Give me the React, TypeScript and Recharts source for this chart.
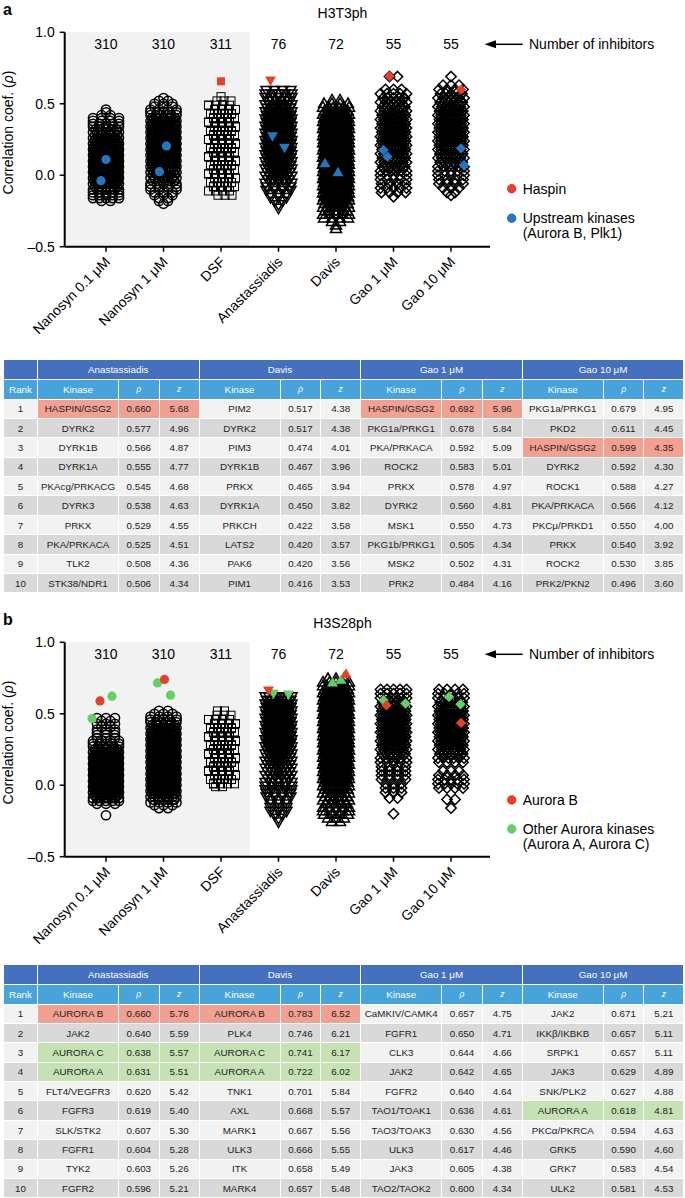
import React from "react";
import { ScatterChart, Scatter, XAxis, YAxis, ReferenceArea } from "recharts";

const categories = ["Nanosyn 0.1 μM", "Nanosyn 1 μM", "DSF", "Anastassiadis", "Davis", "Gao 1 μM", "Gao 10 μM"];
const inhibitorCounts = ["310", "310", "311", "76", "72", "55", "55"];
const yTicks = [-0.5, 0, 0.5, 1];
const groupIdx = [0, 1, 2, 3, 4, 5, 6];

// swarm rows: [rho, number of kinases on that row]
const h3t3Nano01 = [[0.46,1],[0.44,1],[0.42,2],[0.40,4],[0.38,4],[0.36,5],[0.34,5],[0.32,6],[0.30,7],[0.28,8],[0.26,9],[0.24,10],[0.22,11],[0.20,13],[0.18,14],[0.16,14],[0.14,15],[0.12,16],[0.10,16],[0.08,17],[0.06,17],[0.04,17],[0.02,16],[0.00,15],[-0.02,14],[-0.04,12],[-0.06,10],[-0.08,8],[-0.10,7],[-0.12,5],[-0.14,5],[-0.16,5],[-0.18,2]];
const h3t3Nano1 = [[0.54,1],[0.52,2],[0.50,3],[0.48,3],[0.46,4],[0.44,5],[0.42,6],[0.40,8],[0.38,10],[0.36,12],[0.34,13],[0.32,13],[0.30,13],[0.28,14],[0.26,13],[0.24,14],[0.22,13],[0.20,14],[0.18,13],[0.16,14],[0.14,13],[0.12,12],[0.10,13],[0.08,11],[0.06,11],[0.04,9],[0.02,9],[0.00,7],[-0.02,7],[-0.04,6],[-0.06,5],[-0.08,4],[-0.10,4],[-0.12,3],[-0.14,3],[-0.16,2],[-0.18,2],[-0.20,1]];
const h3t3Dsf = [[0.55,1],[0.52,3],[0.49,5],[0.46,8],[0.43,12],[0.40,16],[0.37,18],[0.34,20],[0.31,22],[0.28,23],[0.25,22],[0.22,22],[0.19,22],[0.16,20],[0.13,18],[0.10,16],[0.07,14],[0.04,12],[0.01,10],[-0.02,8],[-0.05,7],[-0.08,5],[-0.11,4],[-0.14,3]];
const h3t3Anas = [[0.59,4],[0.565,5],[0.54,6],[0.515,7],[0.49,8],[0.465,9],[0.44,10],[0.415,11],[0.39,12],[0.365,12],[0.34,12],[0.315,12],[0.29,12],[0.265,12],[0.24,12],[0.215,12],[0.19,12],[0.165,12],[0.14,11],[0.115,11],[0.09,10],[0.065,10],[0.04,9],[0.015,8],[-0.01,7],[-0.035,6],[-0.06,5],[-0.085,4],[-0.11,4],[-0.135,3],[-0.16,3],[-0.185,2],[-0.21,1],[-0.235,1]];
const h3t3Davis = [[0.53,2],[0.505,4],[0.48,6],[0.455,9],[0.43,12],[0.405,14],[0.38,15],[0.355,15],[0.33,14],[0.305,15],[0.28,15],[0.255,16],[0.23,15],[0.205,15],[0.18,14],[0.155,15],[0.13,15],[0.105,16],[0.08,15],[0.055,15],[0.03,14],[0.005,15],[-0.02,15],[-0.045,15],[-0.07,14],[-0.095,15],[-0.12,14],[-0.145,12],[-0.17,10],[-0.195,9],[-0.22,8],[-0.245,7],[-0.27,5],[-0.295,4],[-0.32,2],[-0.345,1],[-0.37,1]];
const h3t3Gao1 = [[0.69,2],[0.60,3],[0.57,5],[0.54,6],[0.51,6],[0.48,7],[0.45,8],[0.42,9],[0.39,9],[0.36,9],[0.33,10],[0.30,10],[0.27,10],[0.24,10],[0.21,10],[0.18,9],[0.15,9],[0.12,8],[0.09,8],[0.06,7],[0.03,6],[0.00,5],[-0.03,5],[-0.06,4],[-0.09,5],[-0.12,4],[-0.15,1]];
const h3t3Gao10 = [[0.69,1],[0.63,3],[0.60,4],[0.57,6],[0.54,6],[0.51,7],[0.48,8],[0.45,9],[0.42,9],[0.39,10],[0.36,10],[0.33,10],[0.30,10],[0.27,10],[0.24,10],[0.21,10],[0.18,9],[0.15,8],[0.12,8],[0.09,7],[0.06,6],[0.03,5],[0.00,5],[-0.03,4],[-0.06,4],[-0.09,3],[-0.12,2],[-0.14,1]];

const h3s28Nano01 = [[0.47,3],[0.45,2],[0.43,3],[0.41,2],[0.39,3],[0.37,3],[0.35,3],[0.33,3],[0.31,4],[0.29,5],[0.27,6],[0.25,9],[0.23,12],[0.21,14],[0.19,15],[0.17,16],[0.15,16],[0.13,17],[0.11,17],[0.09,17],[0.07,17],[0.05,17],[0.03,17],[0.01,16],[-0.01,15],[-0.03,14],[-0.05,12],[-0.07,10],[-0.09,8],[-0.11,5],[-0.13,3],[-0.21,1]];
const h3s28Nano1 = [[0.52,2],[0.50,3],[0.48,4],[0.46,5],[0.44,6],[0.42,8],[0.40,10],[0.38,12],[0.36,13],[0.34,14],[0.32,14],[0.30,14],[0.28,14],[0.26,14],[0.24,14],[0.22,14],[0.20,14],[0.18,14],[0.16,14],[0.14,14],[0.12,14],[0.10,14],[0.08,14],[0.06,14],[0.04,14],[0.02,14],[0.00,14],[-0.02,13],[-0.04,12],[-0.06,10],[-0.08,8],[-0.10,6],[-0.12,4],[-0.14,3],[-0.16,2]];
const h3s28Dsf = [[0.52,2],[0.49,3],[0.46,5],[0.43,10],[0.40,14],[0.37,20],[0.34,24],[0.31,26],[0.28,27],[0.25,27],[0.22,26],[0.19,24],[0.16,22],[0.13,18],[0.10,16],[0.07,12],[0.04,8],[0.01,5],[-0.01,2]];
const h3s28Anas = [[0.615,8],[0.59,10],[0.565,11],[0.54,12],[0.515,12],[0.49,12],[0.465,12],[0.44,12],[0.415,12],[0.39,12],[0.365,12],[0.34,12],[0.315,12],[0.29,12],[0.265,11],[0.24,10],[0.215,9],[0.19,9],[0.165,8],[0.14,8],[0.115,7],[0.09,7],[0.065,6],[0.04,6],[0.015,5],[-0.01,5],[-0.035,5],[-0.06,4],[-0.085,4],[-0.11,3],[-0.135,3],[-0.16,3],[-0.185,3],[-0.21,2],[-0.235,1],[-0.26,1]];
const h3s28Davis = [[0.75,3],[0.725,5],[0.70,8],[0.675,10],[0.65,12],[0.625,13],[0.60,14],[0.575,14],[0.55,15],[0.525,14],[0.50,15],[0.475,14],[0.45,15],[0.425,14],[0.40,14],[0.375,15],[0.35,14],[0.325,14],[0.30,15],[0.275,14],[0.25,14],[0.225,14],[0.20,14],[0.175,13],[0.15,14],[0.125,13],[0.10,13],[0.075,13],[0.05,12],[0.025,11],[0.0,10],[-0.025,9],[-0.05,8],[-0.075,7],[-0.10,6],[-0.125,6],[-0.15,5],[-0.175,5],[-0.20,4],[-0.225,3],[-0.25,2]];
const h3s28Gao1 = [[0.67,5],[0.64,5],[0.61,6],[0.58,7],[0.55,9],[0.52,10],[0.49,11],[0.46,11],[0.43,11],[0.40,11],[0.37,11],[0.34,11],[0.31,10],[0.28,10],[0.25,9],[0.22,8],[0.19,6],[0.16,5],[0.13,4],[0.10,4],[0.07,4],[0.04,4],[0.01,3],[-0.02,3],[-0.05,3],[-0.09,2],[-0.20,1]];
const h3s28Gao10 = [[0.67,4],[0.64,5],[0.61,6],[0.58,7],[0.55,9],[0.52,10],[0.49,11],[0.46,11],[0.43,11],[0.40,11],[0.37,11],[0.34,10],[0.31,9],[0.28,9],[0.25,8],[0.22,8],[0.19,6],[0.16,4],[0.10,3],[0.07,4],[0.04,5],[0.01,5],[-0.02,4],[-0.10,2],[-0.16,1]];

// highlighted kinases: group index + rho
const haspinGroups = [2, 3, 5, 6];
const haspinRho = [0.657, 0.66, 0.692, 0.599];
const upstreamGroups = [0, 0, 1, 1, 3, 3, 4, 4, 5, 5, 6, 6];
const upstreamRho = [0.11, -0.038, 0.205, 0.025, 0.27, 0.188, 0.087, 0.025, 0.176, 0.13, 0.188, 0.07];
const auroraBGroups = [0, 1, 3, 4, 5, 6];
const auroraBRho = [0.59, 0.74, 0.66, 0.783, 0.56, 0.436];
const otherAuroraGroups = [0, 0, 1, 1, 3, 3, 4, 4, 5, 5, 6, 6];
const otherAuroraRho = [0.623, 0.467, 0.716, 0.63, 0.638, 0.631, 0.741, 0.722, 0.595, 0.572, 0.618, 0.567];
// where those markers sit inside the swarm (px)
const haspinDx = [0, -8, -4, 10];
const upstreamDx = [0, -5, 3, -4, -6, 6, -11, 2, -10, -6, 10, 13];
const auroraBDx = [-6, 1, -10, 10, -7, 10];
const otherAuroraDx = [6, -14, -6, 7, -5, 10, 5, -3.5, -10, 12, -2, 9.5];

// tables
const ranks = ["1", "2", "3", "4", "5", "6", "7", "8", "9", "10"];
const tableGroups = ["Anastassiadis", "Davis", "Gao 1 μM", "Gao 10 μM"];

const t3AnasKinase = ["HASPIN/GSG2", "DYRK2", "DYRK1B", "DYRK1A", "PKAcg/PRKACG", "DYRK3", "PRKX", "PKA/PRKACA", "TLK2", "STK38/NDR1"];
const t3AnasRho = ["0.660", "0.577", "0.566", "0.555", "0.545", "0.538", "0.529", "0.525", "0.508", "0.506"];
const t3AnasZ = ["5.68", "4.96", "4.87", "4.77", "4.68", "4.63", "4.55", "4.51", "4.36", "4.34"];
const t3DavisKinase = ["PIM2", "DYRK2", "PIM3", "DYRK1B", "PRKX", "DYRK1A", "PRKCH", "LATS2", "PAK6", "PIM1"];
const t3DavisRho = ["0.517", "0.517", "0.474", "0.467", "0.465", "0.450", "0.422", "0.420", "0.420", "0.416"];
const t3DavisZ = ["4.38", "4.38", "4.01", "3.96", "3.94", "3.82", "3.58", "3.57", "3.56", "3.53"];
const t3Gao1Kinase = ["HASPIN/GSG2", "PKG1a/PRKG1", "PKA/PRKACA", "ROCK2", "PRKX", "DYRK2", "MSK1", "PKG1b/PRKG1", "MSK2", "PRK2"];
const t3Gao1Rho = ["0.692", "0.678", "0.592", "0.583", "0.578", "0.560", "0.550", "0.505", "0.502", "0.484"];
const t3Gao1Z = ["5.96", "5.84", "5.09", "5.01", "4.97", "4.81", "4.73", "4.34", "4.31", "4.16"];
const t3Gao10Kinase = ["PKG1a/PRKG1", "PKD2", "HASPIN/GSG2", "DYRK2", "ROCK1", "PKA/PRKACA", "PKCμ/PRKD1", "PRKX", "ROCK2", "PRK2/PKN2"];
const t3Gao10Rho = ["0.679", "0.611", "0.599", "0.592", "0.588", "0.566", "0.550", "0.540", "0.530", "0.496"];
const t3Gao10Z = ["4.95", "4.45", "4.35", "4.30", "4.27", "4.12", "4.00", "3.92", "3.85", "3.60"];

const s28AnasKinase = ["AURORA B", "JAK2", "AURORA C", "AURORA A", "FLT4/VEGFR3", "FGFR3", "SLK/STK2", "FGFR1", "TYK2", "FGFR2"];
const s28AnasRho = ["0.660", "0.640", "0.638", "0.631", "0.620", "0.619", "0.607", "0.604", "0.603", "0.596"];
const s28AnasZ = ["5.76", "5.59", "5.57", "5.51", "5.42", "5.40", "5.30", "5.28", "5.26", "5.21"];
const s28DavisKinase = ["AURORA B", "PLK4", "AURORA C", "AURORA A", "TNK1", "AXL", "MARK1", "ULK3", "ITK", "MARK4"];
const s28DavisRho = ["0.783", "0.746", "0.741", "0.722", "0.701", "0.668", "0.667", "0.666", "0.658", "0.657"];
const s28DavisZ = ["6.52", "6.21", "6.17", "6.02", "5.84", "5.57", "5.56", "5.55", "5.49", "5.48"];
const s28Gao1Kinase = ["CaMKIV/CAMK4", "FGFR1", "CLK3", "JAK2", "FGFR2", "TAO1/TOAK1", "TAO3/TOAK3", "ULK3", "JAK3", "TAO2/TAOK2"];
const s28Gao1Rho = ["0.657", "0.650", "0.644", "0.642", "0.640", "0.636", "0.630", "0.617", "0.605", "0.600"];
const s28Gao1Z = ["4.75", "4.71", "4.66", "4.65", "4.64", "4.61", "4.56", "4.46", "4.38", "4.34"];
const s28Gao10Kinase = ["JAK2", "IKKβ/IKBKB", "SRPK1", "JAK3", "SNK/PLK2", "AURORA A", "PKCα/PKRCA", "GRK5", "GRK7", "ULK2"];
const s28Gao10Rho = ["0.671", "0.657", "0.657", "0.629", "0.627", "0.618", "0.594", "0.590", "0.583", "0.581"];
const s28Gao10Z = ["5.21", "5.11", "5.11", "4.89", "4.88", "4.81", "4.63", "4.60", "4.54", "4.53"];

const FONT = "'Liberation Sans', Arial, Helvetica, sans-serif";
const RED = "#e5402b";
const BLUE = "#2476bd";
const GREEN = "#64cf64";
const groupShapes = ["circle", "circle", "square", "triDown", "triUp", "diamond", "diamond"];
const swarmLayout: any = {
  circle: { hw: 13, gap: 9, slots: 99 },
  square: { hw: 14, gap: 7, slots: 4, stagger: true },
  triDown: { hw: 13, gap: 8, slots: 99 },
  triUp: { hw: 13, gap: 8, slots: 99 },
  diamond: { hw: 13, gap: 8, slots: 99 },
};

function expandRows(rows: number[][], g: number) {
  const lay = swarmLayout[groupShapes[g]];
  const pts: any[] = [];
  rows.forEach(([v, n], r) => {
    const m = Math.min(n, lay.slots);
    const step = m > 1 ? Math.min(lay.gap, (2 * lay.hw) / (m - 1)) : 0;
    let shift = 0;
    if (lay.stagger && m > 1) shift = [0, 3, -2, 4][r % 4];
    else if (n >= 6 && r % 2 === 1) shift = step / 2;
    for (let k = 0; k < n; k++) {
      const j = k % m;
      let dx = (j - (m - 1) / 2) * step + shift;
      if (!lay.stagger && dx > lay.hw) dx -= step * 0.9;
      pts.push({ x: g, y: v, dx });
    }
  });
  return pts;
}

function marker(kind: string, cx: number, cy: number, fill: string, stroke: string) {
  const sw = 1.5;
  switch (kind) {
    case "circle":
      return <circle cx={cx} cy={cy} r={4.6} fill={fill} stroke={stroke} strokeWidth={sw} />;
    case "square":
      return <rect x={cx - 4} y={cy - 4} width={8} height={8} fill={fill} stroke={stroke} strokeWidth={1} />;
    case "triDown":
      return <polygon points={`${cx - 5.5},${cy - 4.5} ${cx + 5.5},${cy - 4.5} ${cx},${cy + 5}`} fill={fill} stroke={stroke} strokeWidth={sw} />;
    case "triUp":
      return <polygon points={`${cx - 5.5},${cy + 4.5} ${cx + 5.5},${cy + 4.5} ${cx},${cy - 5}`} fill={fill} stroke={stroke} strokeWidth={sw} />;
    default:
      return <polygon points={`${cx},${cy - 5.2} ${cx + 5.2},${cy} ${cx},${cy + 5.2} ${cx - 5.2},${cy}`} fill={fill} stroke={stroke} strokeWidth={sw} />;
  }
}

function highlightPoints(groups: number[], rho: number[], dx: number[]) {
  return groups.map((g, i) => ({ x: g, y: rho[i], dx: dx[i], kind: groupShapes[g] }));
}

// count labels hang from the top of the y range
const countPoints = groupIdx.map((g) => ({ x: g, y: 1, label: inhibitorCounts[g] }));

const fmtTick = (v: number) => (v < 0 ? "–" + Math.abs(v).toFixed(1) : v.toFixed(1));

function CategoryTick(p: any) {
  const ax = p.x + 5;
  const ay = p.y + 9;
  return (
    <text x={ax} y={ay} transform={`rotate(-45 ${ax} ${ay})`} textAnchor="end" fontSize={14} fill="#000" fontFamily={FONT}>
      {categories[p.payload.value]}
    </text>
  );
}

function SwarmPanel({ top, letter, title, rows, marks, legend }: any) {
  const series = rows.map((r: number[][], g: number) => expandRows(r, g));
  return (
    <div style={{ position: "absolute", left: 0, top, width: 685, height: 350 }}>
      <ScatterChart width={685} height={350} margin={{ top: 32.3, right: 195, bottom: 3.3, left: 0 }}>
        <ReferenceArea x1={-0.718} x2={2.5} y1={-0.5} y2={1} fill="#f2f2f2" fillOpacity={1} stroke="none" />
        <XAxis
          type="number"
          dataKey="x"
          domain={[-0.718, 6.678]}
          ticks={groupIdx}
          interval={0}
          height={100}
          tickSize={5}
          axisLine={{ stroke: "#000", strokeWidth: 2 }}
          tickLine={{ stroke: "#000", strokeWidth: 1.5 }}
          tick={<CategoryTick />}
        />
        <YAxis
          type="number"
          dataKey="y"
          domain={[-0.5, 1]}
          ticks={yTicks}
          width={64.7}
          tickSize={5}
          tickMargin={5}
          tickFormatter={fmtTick}
          axisLine={{ stroke: "#000", strokeWidth: 2 }}
          tickLine={{ stroke: "#000", strokeWidth: 1.5 }}
          tick={{ fill: "#000", fontSize: 14, fontFamily: FONT }}
        />
        <Scatter
          data={countPoints}
          isAnimationActive={false}
          shape={(p: any) => (
            <text x={p.cx} y={p.cy + 17} textAnchor="middle" fontSize={14} fill="#000" fontFamily={FONT}>
              {p.payload.label}
            </text>
          )}
        />
        {series.map((pts: any[], g: number) => (
          <Scatter
            key={"s" + g}
            data={pts}
            isAnimationActive={false}
            shape={(p: any) => marker(groupShapes[g], p.cx + p.payload.dx, p.cy, "none", "#000")}
          />
        ))}
        {marks.map((m: any, i: number) => (
          <Scatter
            key={"m" + i}
            data={m.points}
            isAnimationActive={false}
            shape={(p: any) => marker(p.payload.kind, p.cx + p.payload.dx, p.cy, m.color, "none")}
          />
        ))}
      </ScatterChart>
      <svg width={685} height={350} style={{ position: "absolute", left: 0, top: 0, pointerEvents: "none" }} fontFamily={FONT}>
        <text x={3} y={15} fontSize={16} fontWeight="bold" fill="#000">{letter}</text>
        <text x={342.5} y={18} fontSize={14} textAnchor="middle" fill="#000">{title}</text>
        <text x={12.5} y={132.5} fontSize={14} textAnchor="middle" fill="#000" transform="rotate(-90 12.5 132.5)">
          Correlation coef. (<tspan fontStyle="italic">ρ</tspan>)
        </text>
        <line x1={492} y1={44.3} x2={522.7} y2={44.3} stroke="#000" strokeWidth={1.5} />
        <polygon points="484.6,44.3 496,40.3 496,48.3" fill="#000" />
        <text x={529} y={49.3} fontSize={14} fill="#000">Number of inhibitors</text>
        {legend.map((l: any, i: number) => (
          <g key={i}>
            <circle cx={511.7} cy={l.y} r={4.7} fill={l.color} />
            {l.lines.map((t: string, j: number) => (
              <text key={j} x={522.7} y={l.y + 5 + j * 15} fontSize={14} fill="#000">{t}</text>
            ))}
          </g>
        ))}
      </svg>
    </div>
  );
}

const HEAD1 = "#4570be";
const HEAD2 = "#47a3da";
const ROW_LIGHT = "#f2f2f2";
const ROW_DARK = "#d9d9d9";
const TINT_RED = "#f2a092";
const TINT_GREEN = "#c6e2b4";

function RankTable({ top, groups, tint }: any) {
  const cell: any = {
    display: "flex",
    alignItems: "center",
    justifyContent: "center",
    fontSize: 9.8,
    color: "#222",
    whiteSpace: "nowrap",
    overflow: "hidden",
  };
  const head = { ...cell, color: "#fff" };
  const cells: any[] = [];
  cells.push(<div key="g0" style={{ ...head, background: HEAD1 }} />);
  groups.forEach((g: any, i: number) =>
    cells.push(
      <div key={"g" + (i + 1)} style={{ ...head, background: HEAD1, gridColumn: "span 3" }}>{tableGroups[i]}</div>
    )
  );
  cells.push(<div key="c0" style={{ ...head, background: HEAD2 }}>Rank</div>);
  groups.forEach((g: any, i: number) => {
    cells.push(<div key={"ck" + i} style={{ ...head, background: HEAD2 }}>Kinase</div>);
    cells.push(<div key={"cr" + i} style={{ ...head, background: HEAD2, fontStyle: "italic", fontSize: 8.5 }}>ρ</div>);
    cells.push(<div key={"cz" + i} style={{ ...head, background: HEAD2, fontStyle: "italic", fontSize: 8.5 }}>z</div>);
  });
  ranks.forEach((rank, r) => {
    const base = r % 2 === 0 ? ROW_LIGHT : ROW_DARK;
    cells.push(<div key={"r" + r} style={{ ...cell, background: base }}>{rank}</div>);
    groups.forEach((g: any, i: number) => {
      const bg = tint(g.kinase[r]) || base;
      cells.push(<div key={"k" + r + i} style={{ ...cell, background: bg }}>{g.kinase[r]}</div>);
      cells.push(<div key={"p" + r + i} style={{ ...cell, background: bg }}>{g.rho[r]}</div>);
      cells.push(<div key={"z" + r + i} style={{ ...cell, background: bg }}>{g.z[r]}</div>);
    });
  });
  return (
    <div
      style={{
        position: "absolute",
        left: 4,
        top,
        display: "grid",
        gridTemplateColumns: "33px " + "80px 39.6px 39px ".repeat(4),
        gridTemplateRows: "18.5px 19px repeat(10, 18.4px)",
        gap: 1,
        background: "#fff",
        fontFamily: FONT,
      }}
    >
      {cells}
    </div>
  );
}

const haspinTint = (k: string) => (k === "HASPIN/GSG2" ? TINT_RED : null);
const auroraTint = (k: string) =>
  k === "AURORA B" ? TINT_RED : k === "AURORA A" || k === "AURORA C" ? TINT_GREEN : null;

export default function App() {
  const rowsA = [h3t3Nano01, h3t3Nano1, h3t3Dsf, h3t3Anas, h3t3Davis, h3t3Gao1, h3t3Gao10];
  const rowsB = [h3s28Nano01, h3s28Nano1, h3s28Dsf, h3s28Anas, h3s28Davis, h3s28Gao1, h3s28Gao10];
  const marksA = [
    { color: BLUE, points: highlightPoints(upstreamGroups, upstreamRho, upstreamDx) },
    { color: RED, points: highlightPoints(haspinGroups, haspinRho, haspinDx) },
  ];
  const marksB = [
    { color: GREEN, points: highlightPoints(otherAuroraGroups, otherAuroraRho, otherAuroraDx) },
    { color: RED, points: highlightPoints(auroraBGroups, auroraBRho, auroraBDx) },
  ];
  const tableA = [
    { kinase: t3AnasKinase, rho: t3AnasRho, z: t3AnasZ },
    { kinase: t3DavisKinase, rho: t3DavisRho, z: t3DavisZ },
    { kinase: t3Gao1Kinase, rho: t3Gao1Rho, z: t3Gao1Z },
    { kinase: t3Gao10Kinase, rho: t3Gao10Rho, z: t3Gao10Z },
  ];
  const tableB = [
    { kinase: s28AnasKinase, rho: s28AnasRho, z: s28AnasZ },
    { kinase: s28DavisKinase, rho: s28DavisRho, z: s28DavisZ },
    { kinase: s28Gao1Kinase, rho: s28Gao1Rho, z: s28Gao1Z },
    { kinase: s28Gao10Kinase, rho: s28Gao10Rho, z: s28Gao10Z },
  ];
  return (
    <div style={{ position: "absolute", left: 0, top: 0, width: 685, height: 1198, background: "#fff", overflow: "hidden", fontFamily: FONT }}>
      <SwarmPanel
        top={0}
        letter="a"
        title="H3T3ph"
        rows={rowsA}
        marks={marksA}
        legend={[
          { y: 188.8, color: RED, lines: ["Haspin"] },
          { y: 218.3, color: BLUE, lines: ["Upstream kinases", "(Aurora B, Plk1)"] },
        ]}
      />
      <RankTable top={360} groups={tableA} tint={haspinTint} />
      <SwarmPanel
        top={610}
        letter="b"
        title="H3S28ph"
        rows={rowsB}
        marks={marksB}
        legend={[
          { y: 190, color: RED, lines: ["Aurora B"] },
          { y: 219, color: GREEN, lines: ["Other Aurora kinases", "(Aurora A, Aurora C)"] },
        ]}
      />
      <RankTable top={965} groups={tableB} tint={auroraTint} />
    </div>
  );
}
